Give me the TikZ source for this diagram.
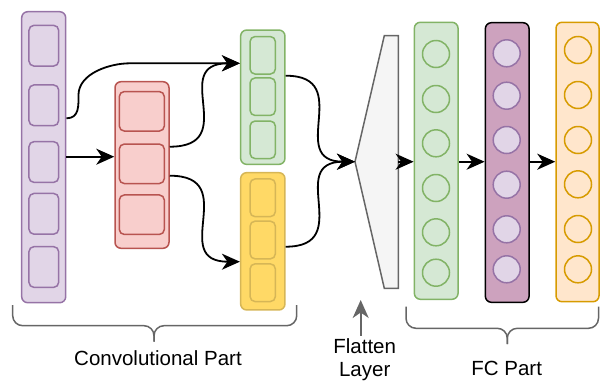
\documentclass[tikz,border=0pt]{standalone}
\usepackage{fontspec}
\setmainfont{Liberation Sans}
\usepackage{xcolor}
\usetikzlibrary{arrows.meta}

\definecolor{purpF}{HTML}{E1D5E7}
\definecolor{purpD}{HTML}{9673A6}
\definecolor{redF}{HTML}{F8CECC}
\definecolor{redD}{HTML}{B85450}
\definecolor{grnF}{HTML}{D5E8D4}
\definecolor{grnD}{HTML}{82B366}
\definecolor{yelF}{HTML}{FFD966}
\definecolor{yelD}{HTML}{D6B656}
\definecolor{orgF}{HTML}{FFE6CC}
\definecolor{orgD}{HTML}{D79B00}
\definecolor{mauF}{HTML}{CDA2BE}
\definecolor{flatF}{HTML}{F5F5F5}
\definecolor{greyD}{HTML}{666666}

\begin{document}
\begin{tikzpicture}[
    x=1pt, y=-1pt,
    >={Stealth[length=18pt, width=16pt, inset=5.5pt]},
    every node/.style={font=\fontsize{20.5}{23}\selectfont},
    col/.style={draw, rounded corners=6pt, line width=1.5pt, inner sep=0pt},
    cell/.style={draw, rounded corners=5pt, line width=1.5pt, inner sep=0pt},
    unit/.style={draw, circle, line width=1.5pt, inner sep=0pt, minimum size=27pt},
    link/.style={->, line width=1.8pt},
    brace/.style={draw=greyD, line width=1.5pt, rounded corners=10pt},
  ]
  \useasboundingbox (0,0) rectangle (600,381);
  %% ---- Convolutional part ----
  % input column (purple)
  \node[col, fill=purpF, draw=purpD, minimum width=44pt, minimum height=291pt] (inp) at (43.7,157.2) {};
  \node[cell, fill=purpF, draw=purpD, minimum width=29.7pt, minimum height=40.7pt] (inp1) at (43.8,45.7) {};
  \node[cell, fill=purpF, draw=purpD, minimum width=29.7pt, minimum height=40.7pt] (inp2) at (43.8,105.3) {};
  \node[cell, fill=purpF, draw=purpD, minimum width=29.7pt, minimum height=40.7pt] (inp3) at (43.8,162) {};
  \node[cell, fill=purpF, draw=purpD, minimum width=29.7pt, minimum height=40.7pt] (inp4) at (43.8,213.8) {};
  \node[cell, fill=purpF, draw=purpD, minimum width=29.7pt, minimum height=40.7pt] (inp5) at (43.8,267) {};
  % first conv (red)
  \node[col, fill=redF, draw=redD, minimum width=54pt, minimum height=166.6pt] (cv) at (142,165) {};
  \node[cell, fill=redF, draw=redD, minimum width=45pt, minimum height=39.5pt] (cv1) at (141.8,111.3) {};
  \node[cell, fill=redF, draw=redD, minimum width=45pt, minimum height=39.5pt] (cv2) at (141.8,163.8) {};
  \node[cell, fill=redF, draw=redD, minimum width=45pt, minimum height=39.5pt] (cv3) at (141.8,214.7) {};
  % upper branch (green)
  \node[col, fill=grnF, draw=grnD, minimum width=44.3pt, minimum height=134.3pt] (up) at (262.8,97.2) {};
  \node[cell, fill=grnF, draw=grnD, minimum width=25.3pt, minimum height=37.5pt] (up1) at (262.7,55.3) {};
  \node[cell, fill=grnF, draw=grnD, minimum width=25.3pt, minimum height=37.5pt] (up2) at (262.7,96.7) {};
  \node[cell, fill=grnF, draw=grnD, minimum width=25.3pt, minimum height=37.5pt] (up3) at (262.7,139.8) {};
  % lower branch (yellow)
  \node[col, fill=yelF, draw=yelD, minimum width=44.3pt, minimum height=137.3pt] (lo) at (262.8,241.3) {};
  \node[cell, fill=yelF, draw=yelD, minimum width=25.3pt, minimum height=37.7pt] (lo1) at (262.7,197.8) {};
  \node[cell, fill=yelF, draw=yelD, minimum width=25.3pt, minimum height=37.7pt] (lo2) at (262.7,240) {};
  \node[cell, fill=yelF, draw=yelD, minimum width=25.3pt, minimum height=37.7pt] (lo3) at (262.7,282.7) {};
  %% ---- Flatten layer ----
  \coordinate (ftip) at (355,161.7);
  \coordinate (fout) at (398.3,161.7);
  \draw[fill=flatF, draw=greyD, line width=1.5pt, line join=miter]
    (ftip) -- (384.3,35.7) -- (398.3,35.7) -- (398.3,288.3) -- (384.3,288.3) -- cycle;
  %% ---- FC part ----
  % hidden 1 (green)
  \node[col, fill=grnF, draw=grnD, minimum width=43.7pt, minimum height=277pt] (fa) at (436.2,160.8) {};
  \node[unit, draw=grnD] (fa1) at (436,54) {};
  \node[unit, draw=grnD] (fa2) at (436,99) {};
  \node[unit, draw=grnD] (fa3) at (436,143.3) {};
  \node[unit, draw=grnD] (fa4) at (436,188) {};
  \node[unit, draw=grnD] (fa5) at (436,232.3) {};
  \node[unit, draw=grnD] (fa6) at (436,272.7) {};
  % hidden 2 (mauve)
  \node[col, fill=mauF, draw=black, minimum width=43.7pt, minimum height=279.6pt] (fb) at (507.2,162.5) {};
  \node[unit, fill=purpF, draw=purpD] (fb1) at (506.7,53.3) {};
  \node[unit, fill=purpF, draw=purpD] (fb2) at (506.7,95.7) {};
  \node[unit, fill=purpF, draw=purpD] (fb3) at (506.7,140) {};
  \node[unit, fill=purpF, draw=purpD] (fb4) at (506.7,184.7) {};
  \node[unit, fill=purpF, draw=purpD] (fb5) at (506.7,229.3) {};
  \node[unit, fill=purpF, draw=purpD] (fb6) at (506.7,269.3) {};
  % output (orange)
  \node[col, fill=orgF, draw=orgD, minimum width=43pt, minimum height=279.4pt] (fo) at (577.5,162) {};
  \node[unit, draw=orgD] (fo1) at (578,50) {};
  \node[unit, draw=orgD] (fo2) at (578,95) {};
  \node[unit, draw=orgD] (fo3) at (578,140) {};
  \node[unit, draw=orgD] (fo4) at (578,184.3) {};
  \node[unit, draw=orgD] (fo5) at (578,229) {};
  \node[unit, draw=orgD] (fo6) at (578,269.3) {};
  %% ---- Labels ----
  \node[anchor=base] (convlbl) at (158,365.7) {Convolutional Part};
  \node[anchor=base] (fclbl) at (506.7,375) {FC Part};
  \node[anchor=north, align=center, inner sep=0pt] (flatlbl) at (364.7,338.5) {Flatten\\Layer};
  \coordinate (fpoint) at (360.7,300);
  %% ---- Braces ----
  \draw[brace] (12.7,305) -- (12.7,325.7) -- (154,325.7) -- (154,341.7);
  \draw[brace] (296.7,305) -- (296.7,325.7) -- (154,325.7) -- (154,341.7);
  \draw[brace] (406,306.7) -- (406,328.3) -- (507.3,328.3) -- (507.3,344);
  \draw[brace] (598.5,306.7) -- (598.5,328.3) -- (507.3,328.3) -- (507.3,344);
  %% ---- Arrows ----
  \draw[link] ([yshift=38.9pt]inp.east) .. controls +(13,0) and +(0,10) .. +(12,-23)
    .. controls +(0,-22) and +(-20,0) .. ([xshift=-110pt,yshift=33.9pt]up.west) -- ([yshift=33.9pt]up.west);
  \draw[link] ([yshift=0.5pt]inp.east) -- ([yshift=0.5pt]inp.east -| cv.west);
  \draw[link] ([yshift=18.3pt]cv.east) .. controls +(72,0) and +(-72,0) .. ([yshift=33.9pt]up.west);
  \draw[link] ([yshift=-10.7pt]cv.east) .. controls +(72,0) and +(-72,0) .. ([yshift=-20.4pt]lo.west);
  \draw[link] ([yshift=21.5pt]up.east) .. controls +(70,0) and +(-70,0) .. (ftip);
  \draw[link] ([yshift=-5.4pt]lo.east) .. controls +(70,0) and +(-70,0) .. (ftip);
  \draw[link] (fout) -- (fout -| fa.west);
  \draw[link] ([yshift=-0.9pt]fa.east) -- ([yshift=-0.9pt]fa.east -| fb.west);
  \draw[link] ([yshift=0.8pt]fb.east) -- ([yshift=0.8pt]fb.east -| fo.west);
  \draw[link, draw=greyD, fill=greyD] (flatlbl.north -| fpoint) ++(0,-3) -- (fpoint);
\end{tikzpicture}
\end{document}
